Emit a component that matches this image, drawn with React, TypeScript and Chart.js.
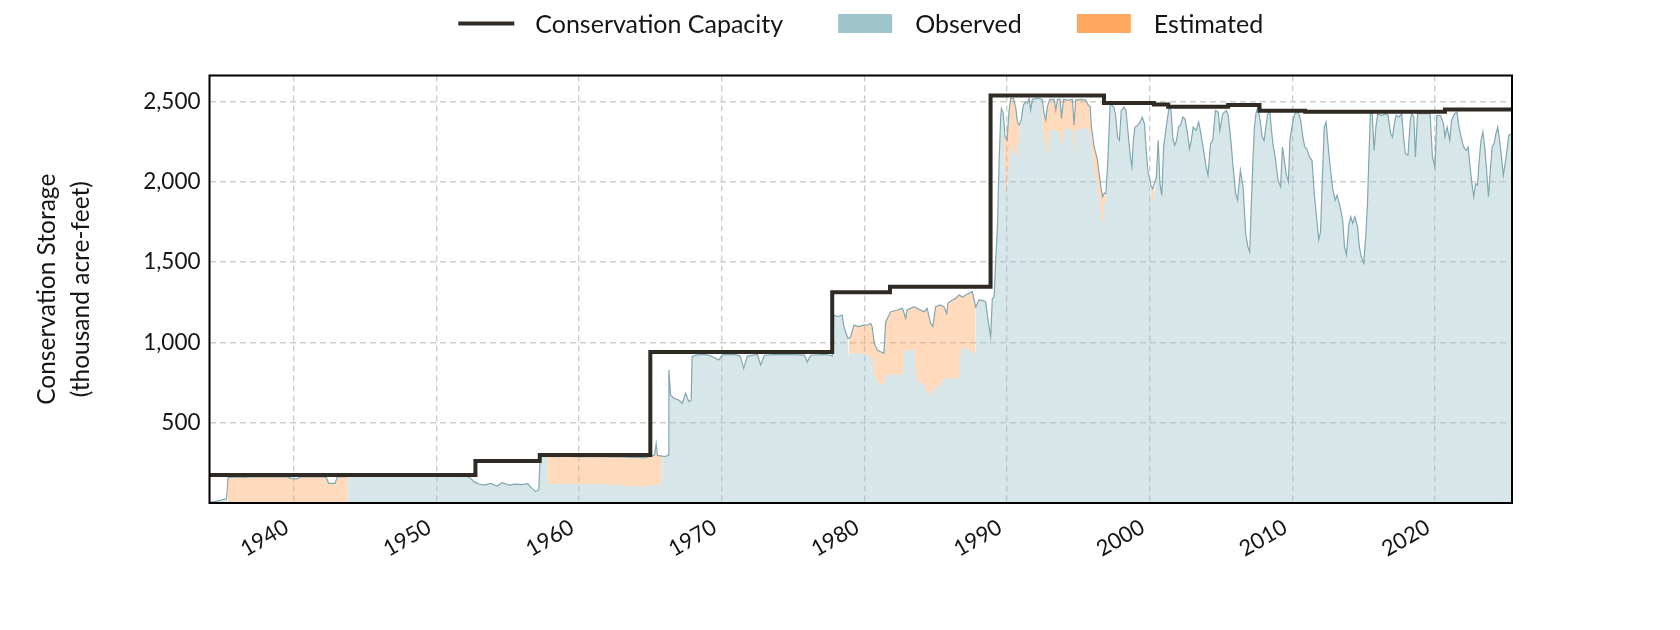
import React, { useEffect, useRef } from 'react';
import { Chart, registerables } from 'chart.js';

Chart.register(...registerables);

const FONT = 'Lato, "Open Sans", sans-serif';
const TEXT_COLOR = '#151515';

// ---- Conservation capacity (stepped) ----
const capacityYears = [1934.1, 1952.74, 1957.25, 1965.0, 1977.75, 1981.8, 1988.85, 1996.8, 2000.3, 2001.3, 2005.5, 2007.7, 2010.9, 2020.7, 2025.4];
const capacityValues = [174, 261, 299, 941, 1312, 1347, 2537, 2490, 2482, 2468, 2478, 2442, 2436, 2450, 2450];

// ---- Conservation storage (top envelope line) ----
const storageYears = [
  // 1934-1935
  1934.1, 1934.5, 1934.9, 1935.3,
  // 1935-1943 (estimated)
  1935.4, 1935.8, 1936.5, 1937.2, 1938.0, 1938.8, 1939.5, 1939.9, 1940.2, 1940.5, 1941.3, 1942.0, 1942.3, 1942.45, 1942.9, 1943.05, 1943.75,
  // 1943-1957
  1943.76, 1946.0, 1949.0, 1952.2, 1952.45, 1952.63, 1953.0, 1953.33, 1953.8, 1954.27, 1954.6, 1955.1, 1955.5, 1956.0, 1956.4, 1956.7, 1956.95, 1957.18, 1957.28, 1957.5, 1957.76,
  // 1957-1965 (estimated)
  1957.77, 1958.5, 1959.2, 1960.0, 1960.8, 1961.5, 1962.2, 1962.9, 1963.5, 1964.0, 1964.6, 1965.0, 1965.3, 1965.41, 1965.5, 1965.83,
  // 1965-1978
  1965.84, 1966.1, 1966.25, 1966.3, 1966.42, 1966.65, 1967.0, 1967.24, 1967.47, 1967.7,
  1967.86, 1967.93, 1968.17, 1968.75, 1969.2, 1969.8, 1970.05, 1970.9, 1971.3, 1971.55,
  1971.8, 1972.5, 1972.73, 1973.0, 1973.9, 1974.9, 1975.8, 1976.0, 1976.24, 1977.2,
  1977.6, 1977.75, 1977.87, 1978.1, 1978.45, 1978.57, 1978.85,
  // 1979-1987 (estimated)
  1978.9, 1979.04, 1979.27, 1979.6, 1979.97, 1980.3, 1980.44, 1980.55, 1980.7, 1980.9,
  1981.14, 1981.37, 1981.5, 1981.85, 1982.32, 1982.67, 1982.8, 1982.9, 1983.0, 1983.5,
  1983.7, 1984.2, 1984.4, 1984.65, 1984.8, 1985.0, 1985.3, 1985.58, 1985.77, 1985.86,
  1986.17, 1986.4, 1986.64, 1986.76, 1986.87, 1987.1, 1987.57, 1987.8,
  // 1987-1989
  1987.81, 1988.04, 1988.27, 1988.5, 1988.74, 1988.86, 1988.97, 1989.1, 1989.2, 1989.33, 1989.45, 1989.56, 1989.61, 1989.74,
  // 1989-1990 (estimated)
  1989.75, 1989.86, 1990.0, 1990.15, 1990.26, 1990.45, 1990.62, 1990.73, 1990.86,
  // 1990-1992
  1990.87, 1991.0, 1991.15, 1991.31, 1991.43, 1991.55, 1991.66, 1991.78, 1992.01, 1992.25, 1992.47,
  // 1992-1996 (estimated)
  1992.48, 1992.6, 1992.72, 1992.83, 1993.0, 1993.3, 1993.42, 1993.54, 1993.72, 1993.82,
  1993.96, 1994.24, 1994.59, 1994.7, 1994.82, 1995.17, 1995.52, 1995.69, 1995.83, 1995.92,
  1996.11, 1996.34, 1996.46, 1996.58, 1996.7, 1996.81, 1996.93,
  // 1997-2025
  1996.94, 1997.05, 1997.15, 1997.23, 1997.49, 1997.62, 1997.75, 1997.88, 1998.01, 1998.19,
  1998.34, 1998.45, 1998.65, 1998.76, 1998.86, 1998.97, 1999.17, 1999.38, 1999.48, 1999.64,
  1999.74, 1999.87, 2000.08, 2000.21, 2000.34, 2000.47, 2000.6, 2000.72, 2000.85, 2000.98,
  2001.19, 2001.37, 2001.5, 2001.63, 2001.76, 2001.89, 2002.02, 2002.15, 2002.33, 2002.48,
  2002.66, 2002.79, 2002.92, 2003.05, 2003.26, 2003.44, 2003.57, 2003.78, 2003.96, 2004.09,
  2004.27, 2004.42, 2004.61, 2004.81, 2004.92, 2005.12, 2005.38, 2005.51, 2005.69, 2005.85,
  2006.03, 2006.16, 2006.36, 2006.55, 2006.73, 2006.88, 2007.01, 2007.14, 2007.24, 2007.35,
  2007.45, 2007.58, 2007.76, 2007.89, 2008.02, 2008.15, 2008.28, 2008.43, 2008.54, 2008.67,
  2008.8, 2009.0, 2009.18, 2009.31, 2009.44, 2009.57, 2009.73, 2009.83, 2009.99, 2010.17,
  2010.43, 2010.61, 2010.74, 2010.87, 2011.02, 2011.2, 2011.38, 2011.54, 2011.72, 2011.85,
  2011.98, 2012.11, 2012.24, 2012.37, 2012.5, 2012.68, 2012.83, 2013.01, 2013.14, 2013.35,
  2013.53, 2013.66, 2013.79, 2013.97, 2014.1, 2014.23, 2014.39, 2014.57, 2014.7, 2014.83,
  2015.01, 2015.16, 2015.27, 2015.37, 2015.47, 2015.6, 2015.73, 2015.86, 2015.99, 2016.25,
  2016.51, 2016.71, 2016.9, 2017.02, 2017.15, 2017.28, 2017.49, 2017.67, 2017.8, 2017.93,
  2018.11, 2018.27, 2018.37, 2018.52, 2018.63, 2018.78, 2019.09, 2019.48, 2019.66, 2019.82,
  2020.0, 2020.13, 2020.26, 2020.39, 2020.6, 2020.7, 2020.85, 2021.04, 2021.16, 2021.37,
  2021.55, 2021.68, 2021.81, 2021.94, 2022.07, 2022.2, 2022.33, 2022.46, 2022.59, 2022.72,
  2022.85, 2022.98, 2023.1, 2023.23, 2023.36, 2023.49, 2023.62, 2023.75, 2023.88, 2024.01,
  2024.14, 2024.27, 2024.4, 2024.53, 2024.66, 2024.79, 2024.92, 2025.05, 2025.17, 2025.4,
];

const storageValues = [
  // 1934-1935
  4, 10, 18, 28,
  // 1935-1943 (estimated)
  158, 163, 160, 164, 162, 164, 163, 152, 150, 162, 163, 164, 158, 122, 122, 162, 164,
  // 1943-1957
  165, 166, 165, 166, 150, 133, 118, 112, 122, 106, 127, 112, 118, 115, 120, 91, 71, 81, 288, 292, 290,
  // 1957-1965 (estimated)
  290, 288, 291, 287, 290, 288, 287, 289, 284, 286, 281, 290, 300, 371, 296, 292,
  // 1965-1978
  292, 290, 300, 828, 672, 652, 641, 620, 683, 631,
  641, 911, 921, 925, 918, 890, 922, 925, 915, 838,
  915, 925, 859, 920, 926, 924, 921, 878, 920, 925,
  920, 915, 1171, 1160, 1171, 1098, 1025,
  // 1979-1987 (estimated)
  1025, 1036, 1108, 1098, 1108, 1110, 1119, 1098, 994, 953,
  942, 932, 1129, 1191, 1202, 1212, 1180, 1150, 1202, 1223,
  1212, 1191, 1212, 1119, 1098, 1223, 1233, 1223, 1181, 1243,
  1264, 1274, 1295, 1290, 1281, 1295, 1316, 1223,
  // 1987-1989
  1222, 1264, 1262, 1254, 1098, 1036, 1274, 1285, 1492, 1721, 2136, 2406, 2457, 2426,
  // 1989-1990 (estimated)
  2420, 2281, 2260, 2447, 2520, 2520, 2457, 2374, 2354,
  // 1990-1992
  2354, 2385, 2478, 2499, 2489, 2520, 2447, 2513, 2520, 2520, 2513,
  // 1992-1996 (estimated)
  2513, 2426, 2385, 2468, 2513, 2513, 2447, 2513, 2513, 2395,
  2513, 2509, 2513, 2354, 2509, 2513, 2509, 2478, 2468, 2343,
  2219, 2136, 2053, 1970, 1907, 1930, 1928,
  // 1997-2025
  1928, 2094, 2300, 2486, 2465, 2413, 2279, 2258, 2444, 2465,
  2444, 2341, 2155, 2093, 2258, 2341, 2351, 2382, 2403, 2361,
  2217, 2072, 1979, 1958, 1989, 2031, 2258, 1989, 1917, 2217,
  2361, 2465, 2444, 2268, 2227, 2258, 2341, 2351, 2403, 2392,
  2299, 2206, 2258, 2341, 2320, 2372, 2310, 2196, 2093, 2041,
  2237, 2258, 2444, 2434, 2320, 2424, 2444, 2413, 2258, 2093,
  1927, 1886, 2072, 1969, 1679, 1596, 1565, 1886, 2134, 2341,
  2424, 2465, 2372, 2279, 2258, 2341, 2424, 2434, 2320, 2217,
  2155, 2010, 1969, 2217, 2134, 2051, 2000, 2258, 2351, 2424,
  2434, 2372, 2279, 2217, 2206, 2155, 2134, 1927, 1762, 1638,
  1689, 2031, 2341, 2372, 2237, 2072, 1958, 1886, 1917, 1845,
  1762, 1596, 1545, 1741, 1782, 1741, 1782, 1720, 1596, 1534,
  1493, 1679, 1865, 2155, 2424, 2424, 2196, 2341, 2424, 2413,
  2424, 2413, 2299, 2279, 2361, 2413, 2403, 2424, 2279, 2175,
  2165, 2382, 2424, 2403, 2155, 2424, 2424, 2424, 2424, 2155,
  2093, 2413, 2413, 2413, 2361, 2279, 2341, 2258, 2382, 2424,
  2434, 2341, 2289, 2237, 2206, 2196, 2217, 2093, 1989, 1907,
  1989, 1979, 2134, 2258, 2310, 2217, 2072, 1907, 2072, 2217,
  2237, 2299, 2341, 2258, 2155, 2041, 2113, 2196, 2289, 2300,
];

// ---- Estimated periods: lower edge of the estimated band at each storage date ----
const estimatedYears = [
  1935.4, 1935.8, 1936.5, 1937.2, 1938.0, 1938.8, 1939.5, 1939.9, 1940.2, 1940.5, 1941.3, 1942.0, 1942.3, 1942.45, 1942.9, 1943.05, 1943.75,
  1957.77, 1958.5, 1959.2, 1960.0, 1960.8, 1961.5, 1962.2, 1962.9, 1963.5, 1964.0, 1964.6, 1965.0, 1965.3, 1965.41, 1965.5, 1965.83,
  1978.9, 1979.04, 1979.27, 1979.6, 1979.97, 1980.3, 1980.44, 1980.55, 1980.7, 1980.9,
  1981.14, 1981.37, 1981.5, 1981.85, 1982.32, 1982.67, 1982.8, 1982.9, 1983.0, 1983.5,
  1983.7, 1984.2, 1984.4, 1984.65, 1984.8, 1985.0, 1985.3, 1985.58, 1985.77, 1985.86,
  1986.17, 1986.4, 1986.64, 1986.76, 1986.87, 1987.1, 1987.57, 1987.8,
  1989.75, 1989.86, 1990.0, 1990.15, 1990.26, 1990.45, 1990.62, 1990.73, 1990.86,
  1992.48, 1992.6, 1992.72, 1992.83, 1993.0, 1993.3, 1993.42, 1993.54, 1993.72, 1993.82,
  1993.96, 1994.24, 1994.59, 1994.7, 1994.82, 1995.17, 1995.52, 1995.69, 1995.83, 1995.92,
  1996.11, 1996.34, 1996.46, 1996.58, 1996.7, 1996.81, 1996.93,
  2000.08, 2000.21, 2000.34,
];
const estimatedFloor = [
  0, 0, 0, 0, 0, 0, 0, 0, 0, 0, 0, 0, 0, 0, 0, 0, 0,
  120, 118, 121, 116, 117, 119, 112, 115, 103, 108, 100, 110, 112, 115, 112, 120,
  900, 930, 935, 930, 932, 915, 910, 905, 800, 760,
  740, 735, 800, 800, 797, 800, 950, 955, 950, 955,
  760, 740, 680, 700, 660, 740, 720, 780, 770, 775,
  776, 780, 776, 970, 972, 960, 940, 930,
  2400, 2050, 1930, 2150, 2200, 2230, 2150, 2180, 2300,
  2330, 2290, 2200, 2160, 2320, 2330, 2310, 2320, 2300, 2160,
  2320, 2330, 2330, 2170, 2320, 2330, 2335, 2330, 2300, 2220,
  2080, 1980, 1880, 1800, 1741, 1860, 1900,
  1900, 1880, 1920,
];

const xTickYears = [1940, 1950, 1960, 1970, 1980, 1990, 2000, 2010, 2020];
const yTickValues = [500, 1000, 1500, 2000, 2500];
const yTitleLines = ['Conservation Storage', '(thousand acre-feet)'];
const legendLabels = ['Conservation Capacity', 'Observed', 'Estimated'];

const X_MIN = 1934.1;
const X_MAX = 2025.4;
const Y_MAX = 2662;

const CAPACITY_COLOR = '#2f2a24';
const OBSERVED_COLOR = '#9fc4cb';
const OBSERVED_LINE = '#82a8af';
const ESTIMATED_COLOR = '#ffa75f';

const legendPlugin = {
  id: 'topLegend',
  afterDraw(chart: any) {
    const { ctx, chartArea } = chart;
    ctx.save();
    ctx.font = `25px ${FONT}`;
    ctx.textBaseline = 'middle';
    ctx.fillStyle = TEXT_COLOR;
    const sampleW = 56;
    const gapIn = 21;
    const gapOut = 55;
    const widths = legendLabels.map((l) => ctx.measureText(l).width);
    const total = 3 * sampleW + 3 * gapIn + widths.reduce((a, b) => a + b, 0) + 2 * gapOut;
    let x = (chartArea.left + chartArea.right) / 2 - total / 2;
    const cy = 23.5;
    legendLabels.forEach((label, i) => {
      if (i === 0) {
        ctx.strokeStyle = CAPACITY_COLOR;
        ctx.lineWidth = 4;
        ctx.beginPath();
        ctx.moveTo(x, cy);
        ctx.lineTo(x + sampleW, cy);
        ctx.stroke();
      } else {
        ctx.fillStyle = i === 1 ? OBSERVED_COLOR : ESTIMATED_COLOR;
        ctx.fillRect(x, cy - 9.5, sampleW - 2, 19);
      }
      x += sampleW + gapIn;
      ctx.fillStyle = TEXT_COLOR;
      ctx.fillText(label, x, cy + 1);
      x += widths[i] + gapOut;
    });
    ctx.restore();
  },
};

const framePlugin = {
  id: 'frame',
  afterDraw(chart: any) {
    const { ctx, chartArea } = chart;
    ctx.save();
    ctx.strokeStyle = '#000';
    ctx.lineWidth = 2;
    ctx.strokeRect(chartArea.left, chartArea.top, chartArea.right - chartArea.left, chartArea.bottom - chartArea.top);
    ctx.restore();
  },
};

export default function App() {
  const canvasRef = useRef<HTMLCanvasElement | null>(null);

  useEffect(() => {
    if (!canvasRef.current) return;
    const floorMap = new Map<number, number>();
    estimatedYears.forEach((y, i) => floorMap.set(y, estimatedFloor[i]));

    const capacityData = capacityYears.map((x, i) => ({ x, y: capacityValues[i] }));
    const lineData = storageYears.map((x, i) => ({ x, y: storageValues[i] }));
    const observedFill = storageYears.map((x, i) => ({ x, y: floorMap.has(x) ? (floorMap.get(x) as number) : storageValues[i] }));
    const estimatedFill = storageYears.map((x, i) => ({ x, y: floorMap.has(x) ? storageValues[i] : null }));

    const gridCommon = { color: '#cdcdcd', lineWidth: 1.4, drawTicks: false };

    const chart = new Chart(canvasRef.current, {
      type: 'line',
      data: {
        datasets: [
          {
            label: 'Conservation Capacity',
            data: capacityData,
            stepped: 'before' as any,
            borderColor: CAPACITY_COLOR,
            borderWidth: 4,
            pointRadius: 0,
            fill: false,
            order: 0,
          },
          {
            label: 'Observed line',
            data: lineData,
            borderColor: OBSERVED_LINE,
            borderWidth: 1.2,
            pointRadius: 0,
            fill: false,
            tension: 0,
            order: 1,
          },
          {
            label: 'Estimated',
            data: estimatedFill as any,
            borderWidth: 0,
            borderColor: 'rgba(0,0,0,0)',
            backgroundColor: 'rgba(255,167,95,0.42)',
            pointRadius: 0,
            spanGaps: false,
            fill: 3,
            order: 2,
          },
          {
            label: 'Observed',
            data: observedFill,
            borderWidth: 0,
            borderColor: 'rgba(0,0,0,0)',
            backgroundColor: 'rgba(159,196,203,0.42)',
            pointRadius: 0,
            fill: 'origin',
            order: 3,
          },
        ],
      },
      options: {
        animation: false,
        responsive: false,
        events: [],
        layout: { padding: { top: 75.5, right: 168, bottom: 0, left: 0 } },
        plugins: { legend: { display: false }, tooltip: { enabled: false } },
        scales: {
          x: {
            type: 'linear',
            min: X_MIN,
            max: X_MAX,
            afterBuildTicks: (s: any) => {
              s.ticks = xTickYears.map((v) => ({ value: v }));
            },
            afterFit: (s: any) => {
              s.height = 127;
            },
            ticks: {
              autoSkip: false,
              minRotation: 30,
              maxRotation: 30,
              padding: 11,
              labelOffset: -7,
              color: TEXT_COLOR,
              font: { family: FONT, size: 22 },
              callback: (v: any) => String(v),
            },
            grid: gridCommon,
            border: { display: false, dash: [6, 4] },
          },
          y: {
            type: 'linear',
            min: 0,
            max: Y_MAX,
            afterBuildTicks: (s: any) => {
              s.ticks = yTickValues.map((v) => ({ value: v }));
            },
            afterFit: (s: any) => {
              s.width = 209.5;
            },
            ticks: {
              padding: 9,
              color: TEXT_COLOR,
              font: { family: FONT, size: 22.5 },
              callback: (v: any) => Number(v).toLocaleString('en-US'),
            },
            grid: gridCommon,
            border: { display: false, dash: [6, 4] },
            title: {
              display: true,
              text: yTitleLines,
              color: TEXT_COLOR,
              font: { family: FONT, size: 24.5, lineHeight: 1.35 },
              padding: { top: 31, bottom: 0 },
            },
          },
        },
      },
      plugins: [legendPlugin, framePlugin],
    } as any);

    return () => chart.destroy();
  }, []);

  return (
    <div style={{ position: 'absolute', left: 0, top: 0, width: 1680, height: 630, background: '#fff' }}>
      <canvas ref={canvasRef} width={1680} height={630} style={{ width: 1680, height: 630 }} />
    </div>
  );
}
